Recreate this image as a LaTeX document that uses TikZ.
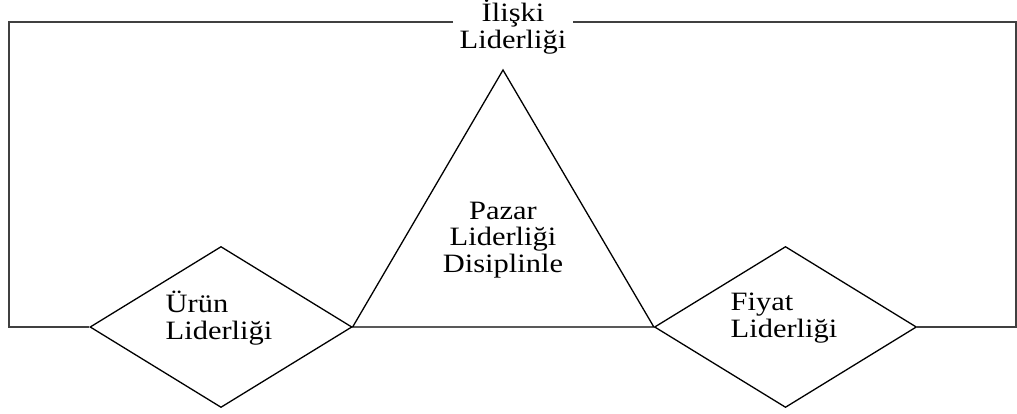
\documentclass[tikz,border=0pt]{standalone}
\usepackage{fontspec}
\setmainfont{Liberation Serif}[FakeStretch=1.15]
\usetikzlibrary{positioning,shapes.geometric}

\begin{document}
\begin{tikzpicture}[x=1pt,y=-1pt,line width=1.3pt,
  lider/.style={draw,diamond,minimum width=262pt,minimum height=161pt,inner sep=0pt},
  yazi/.style={inner sep=0pt,font=\fontsize{26.5}{26.5}\selectfont}]
\useasboundingbox (0,0) rectangle (1017,414);
\node[lider] (urun) at (221,327) {};
\node[lider] (fiyat) at (785.5,327) {};
\coordinate (tepe) at (503,70);
\coordinate (solust) at (9,22);
\coordinate (solalt) at (9,327);
\coordinate (sagust) at (1016,22);
\coordinate (sagalt) at (1016,327);
\coordinate (bosluksol) at (453,22);
\coordinate (bosluksag) at (573,22);
\node[yazi,align=center] (iliski) at (513,27) {İlişki\\Liderliği};
\node[yazi,align=left] (urunyazi) at (219,318) {Ürün\\Liderliği};
\node[yazi,align=left] (fiyatyazi) at (784,318) {Fiyat\\Liderliği};
\node[yazi,align=center] (pazar) at (503,240) {Pazar\\Liderliği\\Disiplinle};
% cerceve
\draw[black!75] (bosluksol) -- (solust) -- (solalt) -- (urun.west);
\draw[black!75] (bosluksag) -- (sagust) -- (sagalt) -- (fiyat.east);
% ucgen
\draw (urun.east) -- (tepe) -- (fiyat.west) -- cycle;
\end{tikzpicture}
\end{document}
